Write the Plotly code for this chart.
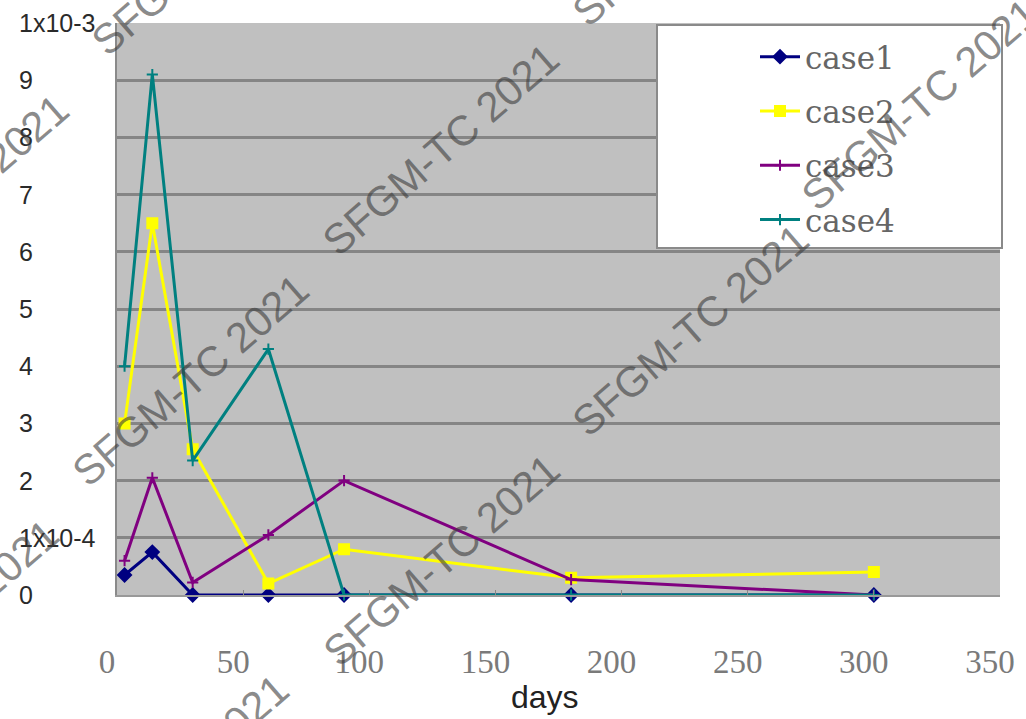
import plotly.graph_objects as go

# ---- data ----
days = [3, 14, 30, 60, 90, 180, 300]
case1 = [0.35e-4, 0.75e-4, 0.0, 0.0, 0.0, 0.0, 0.0]
case2 = [3.0e-4, 6.5e-4, 2.55e-4, 0.2e-4, 0.8e-4, 0.3e-4, 0.4e-4]
case3 = [0.6e-4, 2.05e-4, 0.22e-4, 1.05e-4, 2.0e-4, 0.27e-4, 0.0]
case4 = [4.0e-4, 9.1e-4, 2.35e-4, 4.3e-4, 0.0, 0.0, 0.0]

series_names = ["case1", "case2", "case3", "case4"]
series_values = [case1, case2, case3, case4]
series_colors = ["#000080", "#ffff00", "#800080", "#008080"]
series_symbols = ["diamond", "square", "cross-thin", "cross-thin"]
series_msize = [10, 10, 8, 8]

x_tickvals = [0, 50, 100, 150, 200, 250, 300, 350]
x_ticktext = ["0", "50", "100", "150", "200", "250", "300", "350"]
y_tickvals = [0, 1e-4, 2e-4, 3e-4, 4e-4, 5e-4, 6e-4, 7e-4, 8e-4, 9e-4, 1e-3]
y_ticktext = ["0", "1x10-4", "2", "3", "4", "5", "6", "7", "8", "9", "1x10-3"]

watermark_text = "SFGM-TC 2021"
# watermark centres in pixels (page coords)
watermark_px = [(441, 150), (920, 105), (190, 380), (690, 330), (441, 560),
                (210, -50), (-50, 200), (-60, 625), (170, 780), (690, -80)]

# ---- layout geometry ----
W, H = 1026, 719
L, R, T, B = 117, 26, 23, 124
PW, PH = W - L - R, H - T - B


def px2paper(px, py):
    return (px - L) / PW, (H - B - py) / PH


fig = go.Figure()
for name, vals, col, sym, ms in zip(series_names, series_values, series_colors,
                                     series_symbols, series_msize):
    fig.add_trace(go.Scatter(
        x=days, y=vals, name=name, mode="lines+markers",
        legendgroup=name,
        line=dict(color=col, width=3),
        marker=dict(symbol=sym, size=ms, color=col,
                    line=dict(color=col, width=2)),
        cliponaxis=False,
    ))

annotations = []
for v, t in zip(y_tickvals, y_ticktext):
    annotations.append(dict(
        x=(17 - L) / PW, xref="paper", y=v, yref="y", text=t,
        showarrow=False, xanchor="left", yanchor="middle",
        font=dict(family="Liberation Sans", size=25, color="#2a2a2a")))

annotations.append(dict(
    x=(545 - L) / PW, xref="paper", y=(H - B - 697) / PH, yref="paper",
    text="days", showarrow=False, xanchor="center", yanchor="middle",
    font=dict(family="Liberation Sans", size=32, color="#222222")))

for (px, py) in watermark_px:
    ax, ay = px2paper(px, py)
    annotations.append(dict(
        x=ax, y=ay, xref="paper", yref="paper", text=watermark_text,
        showarrow=False, textangle=-41, xanchor="center", yanchor="middle",
        font=dict(family="Liberation Sans", size=42,
                  color="rgba(60,60,60,0.6)")))

bx0, by1 = px2paper(657, 25)
bx1, by0 = px2paper(1002, 248)

fig.update_layout(
    width=W, height=H,
    margin=dict(l=L, r=R, t=T, b=B),
    paper_bgcolor="white",
    plot_bgcolor="#c0c0c0",
    showlegend=True,
    legend=dict(
        x=(755 - L) / PW, y=(H - B - 30) / PH, xanchor="left", yanchor="top",
        bgcolor="rgba(0,0,0,0)", borderwidth=0,
        font=dict(family="DejaVu Serif", size=31, color="#666666"),
        tracegroupgap=11, itemwidth=40,
    ),
    xaxis=dict(
        range=[0, 350], tickvals=x_tickvals, ticktext=x_ticktext,
        showgrid=False, zeroline=False,
        ticks="inside", ticklen=5, tickcolor="#888888",
        showline=True, linecolor="#999999", linewidth=2,
        ticklabelshift=-10, ticklabelstandoff=36,
        tickfont=dict(family="Liberation Serif", size=33, color="#7a7a7a"),
    ),
    yaxis=dict(
        range=[0, 1e-3], tickvals=y_tickvals, showticklabels=False,
        showgrid=True, gridcolor="#858585", gridwidth=3, zeroline=False,
        showline=True, linecolor="#8a8a8a", linewidth=2,
    ),
    shapes=[dict(type="rect", xref="paper", yref="paper",
                 x0=bx0, x1=bx1, y0=by0, y1=by1,
                 fillcolor="white", line=dict(color="#8a8a8a", width=2),
                 layer="above")],
    annotations=annotations,
)

fig.write_html("out.html")
